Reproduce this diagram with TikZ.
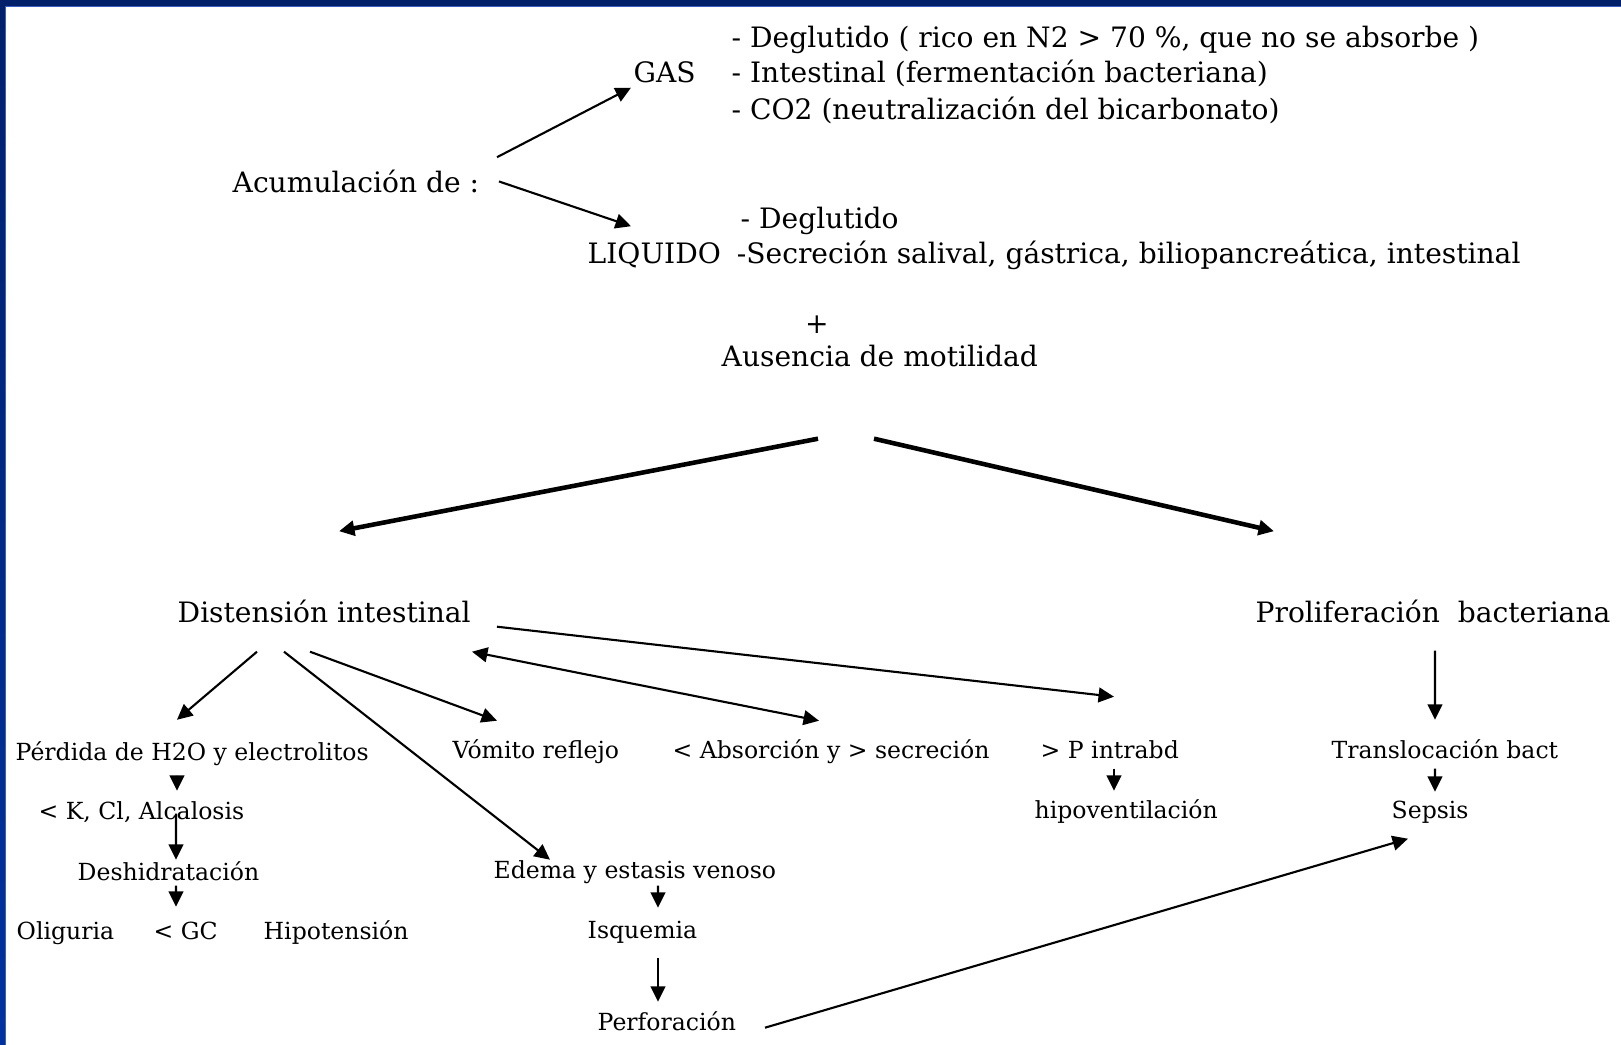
\documentclass[tikz,border=0pt]{standalone}
\usepackage{fontspec}
\setmainfont{DejaVu Serif}
\usepackage{tikz}
\usetikzlibrary{arrows.meta}

\definecolor{marino}{HTML}{00206A}
\definecolor{azul}{HTML}{0033A0}
\definecolor{celeste}{HTML}{3A5FC0}

\begin{document}
\begin{tikzpicture}[
    >={Triangle[length=4.4pt,width=4.2pt]},
    grande/.style={
        font=\fontsize{8}{10}\selectfont,
        inner sep=0pt,
        text height=6pt,
        text depth=0pt,
        anchor=base west
    },
    chico/.style={
        font=\fontsize{6.7}{8}\selectfont,
        inner sep=0pt,
        text height=5pt,
        text depth=0pt,
        anchor=base west
    },
    flecha/.style={->, line width=0.6pt},
    gruesa/.style={->, line width=1.3pt}
]
    \useasboundingbox (0,0) rectangle (16.21,-10.45);
    \fill[white] (0,0) rectangle (16.21,-10.45);

    % marco azul
    \fill[marino] (0,0) rectangle (16.21,-0.06);
    \fill[celeste] (0.05,-0.06) rectangle (16.21,-0.07);
    \shade[top color=marino, bottom color=azul] (0,0) rectangle (0.05,-10.45);
    \fill[celeste] (0.05,-0.07) rectangle (0.06,-10.45);

    % acumulacion
    \node[grande] (acum) at (2.32,-1.92) {Acumulación de :};
    \node[grande] (gas) at (6.33,-0.82) {GAS};
    \node[grande] (gas1) at (7.31,-0.47) {- Deglutido ( rico en N2 > 70 \%, que no se absorbe )};
    \node[grande] (gas2) at (7.31,-0.82) {- Intestinal (fermentación bacteriana)};
    \node[grande] (gas3) at (7.31,-1.19) {- CO2 (neutralización del bicarbonato)};
    \node[grande] (liqdeg) at (7.40,-2.28) {- Deglutido};
    \node[grande] (liquido) at (5.87,-2.63)
        {LIQUIDO\hspace{0.07cm} -Secreción salival, gástrica, biliopancreática, intestinal};
    \node[grande, anchor=base] (mas) at (8.17,-3.33) {+};
    \node[grande] (ausencia) at (7.21,-3.66) {Ausencia de motilidad};

    \draw[flecha] ([shift={(2.65,0.13)}]acum.north west) -- ([shift={(-0.02,-0.05)}]gas.south west);
    \draw[flecha] ([shift={(2.67,0)}]acum.west) -- ([shift={(0.44,0.15)}]liquido.north west);

    % dos ramas
    \node[grande] (disten) at (1.77,-6.22) {Distensión intestinal};
    \node[grande] (prolif) at (12.55,-6.22) {Proliferación\ \ bacteriana};

    \draw[gruesa] ([shift={(0.97,-0.72)}]ausencia.south west) -- ([shift={(1.62,0.69)}]disten.north west);
    \draw[gruesa] ([shift={(1.53,-0.72)}]ausencia.south west) -- ([shift={(0.19,0.69)}]prolif.north west);

    % consecuencias
    \node[chico] (perdida) at (0.15,-7.60) {Pérdida de H2O y electrolitos};
    \node[chico] (vomito) at (4.52,-7.58) {Vómito reflejo};
    \node[chico] (absorcion) at (6.72,-7.58) {< Absorción y > secreción};
    \node[chico] (pintra) at (10.40,-7.58) {> P intrabd};
    \node[chico] (transloc) at (13.31,-7.58) {Translocación bact};
    \node[chico] (kcl) at (0.38,-8.19) {< K, Cl, Alcalosis};
    \node[chico] (hipovent) at (10.34,-8.18) {hipoventilación};
    \node[chico] (sepsis) at (13.91,-8.18) {Sepsis};
    \node[chico] (deshid) at (0.77,-8.80) {Deshidratación};
    \node[chico] (edema) at (4.93,-8.78) {Edema y estasis venoso};
    \node[chico] (oligu) at (0.16,-9.39) {Oliguria};
    \node[chico] (gc) at (1.53,-9.39) {< GC};
    \node[chico] (hipot) at (2.63,-9.39) {Hipotensión};
    \node[chico] (isquemia) at (5.87,-9.38) {Isquemia};
    \node[chico] (perfor) at (5.97,-10.30) {Perforación};

    \draw[flecha] ([shift={(0.80,-0.29)}]disten.south west) -- ([shift={(1.62,0.22)}]perdida.north west);
    \draw[flecha] ([shift={(1.07,-0.29)}]disten.south west) -- ([shift={(0.57,0)}]edema.north west);
    \draw[flecha] ([shift={(1.33,-0.29)}]disten.south west) -- ([shift={(0.45,0.19)}]vomito.north west);
    \draw[flecha, <->] ([shift={(2.95,-0.29)}]disten.south west) -- ([shift={(1.47,0.19)}]absorcion.north west);
    \draw[flecha] ([shift={(3.20,-0.04)}]disten.south west) -- ([shift={(0.74,0.43)}]pintra.north west);

    \draw[flecha] ([shift={(1.62,-0.18)}]perdida.south west) -- ([shift={(1.39,0.10)}]kcl.north west);
    \draw[flecha] ([shift={(1.38,0.06)}]kcl.south west) -- ([shift={(0.99,0.02)}]deshid.north west);
    \draw[flecha] ([shift={(0.99,-0.05)}]deshid.south west) -- ([shift={(0.23,0.14)}]gc.north west);
    \draw[flecha] ([shift={(0.74,-0.10)}]pintra.south west) -- ([shift={(0.80,0.09)}]hipovent.north west);
    \draw[flecha] ([shift={(1.80,-0.28)}]prolif.south west) -- ([shift={(1.04,0.20)}]transloc.north west);
    \draw[flecha] ([shift={(1.04,-0.10)}]transloc.south west) -- ([shift={(0.44,0.08)}]sepsis.north west);
    \draw[flecha] ([shift={(1.65,-0.07)}]edema.south west) -- ([shift={(0.71,0.12)}]isquemia.north west);
    \draw[flecha] ([shift={(0.71,-0.19)}]isquemia.south west) -- ([shift={(0.61,0.10)}]perfor.north west);
    \draw[flecha] ([shift={(1.68,0.03)}]perfor.south west) -- ([shift={(0.17,-0.20)}]sepsis.south west);
\end{tikzpicture}
\end{document}
